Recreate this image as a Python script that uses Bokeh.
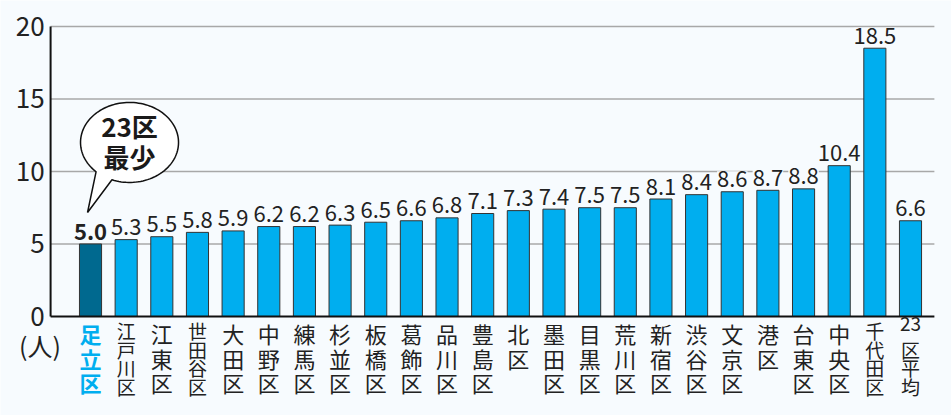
import numpy as np
from bokeh.plotting import figure
from bokeh.models import Range1d, ColumnDataSource
from bokeh.core.properties import value
from bokeh.embed import file_html
from bokeh.resources import INLINE

wards = ["足立区", "江戸川区", "江東区", "世田谷区", "大田区", "中野区", "練馬区", "杉並区",
         "板橋区", "葛飾区", "品川区", "豊島区", "北区", "墨田区", "目黒区", "荒川区",
         "新宿区", "渋谷区", "文京区", "港区", "台東区", "中央区", "千代田区", "23区平均"]
values = [5.0, 5.3, 5.5, 5.8, 5.9, 6.2, 6.2, 6.3, 6.5, 6.6, 6.8, 7.1, 7.3, 7.4, 7.5, 7.5,
          8.1, 8.4, 8.6, 8.7, 8.8, 10.4, 18.5, 6.6]
y_ticks = [0, 5, 10, 15, 20]
unit_label = "(人)"

BG = "#f7fbfe"
FONT = "Noto Sans CJK JP"
DARK = "#00698f"
CYAN = "#00aeef"
INK = "#222222"

n = len(wards)
xs = list(range(n))
colors = [DARK] + [CYAN] * (n - 1)
val_text = [f"{v:.1f}" for v in values]
val_styles = ["bold"] + ["normal"] * (n - 1)
src = ColumnDataSource(dict(x=xs, top=values, color=colors, vt=val_text, vsty=val_styles))


def split_lines(name):
    if name.startswith("23"):
        return ["23"] + list(name[2:])
    return list(name)


cx_, cl_, cc_, cs_, co_, cf_ = [], [], [], [], [], []
for i, w in enumerate(wards):
    rows = split_lines(w)
    small = len(rows) >= 4
    pitch = 18.5 if small else 24.5
    fsize = "19px" if small else "22px"
    for r, ch in enumerate(rows):
        cx_.append(i)
        cl_.append(ch)
        cc_.append(CYAN if i == 0 else INK)
        cs_.append("bold" if i == 0 else "normal")
        co_.append(r * pitch)
        cf_.append(fsize)
lab_src = ColumnDataSource(dict(x=cx_, t=cl_, c=cc_, s=cs_, o=co_, f=cf_))

# plot area spans the whole canvas; the axis is drawn in data space
X0, X1 = -1.12, 23.67          # axis position / right end of grid
p = figure(width=951, height=415, output_backend="svg", toolbar_location=None,
           x_range=Range1d(-2.525, 24.15), y_range=Range1d(-6.83, 21.79),
           x_axis_type=None, y_axis_type=None,
           min_border_left=0, min_border_right=0, min_border_top=0, min_border_bottom=0)
p.background_fill_color = BG
p.border_fill_color = BG
p.outline_line_color = None
p.grid.visible = False

grid_y = y_ticks[1:]
p.segment(x0=[X0] * len(grid_y), x1=[X1] * len(grid_y), y0=grid_y, y1=grid_y,
          line_color="#a8a8a8", line_width=1.5)

# y tick labels
p.text(x=[X0] * len(y_ticks), y=y_ticks, text=[str(t) for t in y_ticks], x_offset=-6,
       text_font=value(FONT), text_font_size="26px", text_color=INK,
       text_align="right", text_baseline="middle")
p.text(x=[X0 - 0.3], y=[-1.95], text=[unit_label], text_font=value(FONT),
       text_font_size="25px", text_color=INK, text_align="center", text_baseline="middle")

# value labels (boxed so grid lines pass behind them)
p.text(x="x", y="top", text="vt", source=src, text_font=value(FONT), text_font_size="22px",
       text_font_style="vsty", text_color=INK, text_align="center",
       text_baseline="alphabetic", y_offset=-12.5, background_fill_color=BG, padding=0)

# bars
p.vbar(x="x", top="top", width=0.62, bottom=0, source=src, fill_color="color",
       line_color="#333333", line_width=1)

# axis lines
p.segment(x0=[X0], x1=[X0], y0=[y_ticks[0]], y1=[y_ticks[-1]], line_color="#111111", line_width=2)
p.segment(x0=[X0], x1=[X1], y0=[0], y1=[0], line_color="#111111", line_width=2)

# category labels (stacked vertical, one character per row)
p.text(x="x", y=-0.05, text="t", source=lab_src, y_offset="o", text_font=value(FONT),
       text_font_size="f", text_font_style="s", text_color="c", text_align="center",
       text_baseline="top")

# callout bubble
sx, sy = 35.65, 14.5  # px per data unit
cx, cy, rx, ry = 1.094, 12.0, 49 / sx, 40 / sy
tip = (-0.084, 7.17)
a0, a1 = np.deg2rad(249), np.deg2rad(227 + 360)
ang = np.linspace(a0, a1, 120)
bx = list(cx + rx * np.cos(ang)) + [tip[0]]
by = list(cy + ry * np.sin(ang)) + [tip[1]]
p.patch(bx, by, fill_color="white", line_color="#111111", line_width=1.5)
p.text(x=[cx, cx], y=[cy + 1.2, cy - 1.0], text=["23区", "最少"], text_font=value(FONT),
       text_font_size="26px", text_font_style="bold", text_color="#1a1a1a",
       text_align="center", text_baseline="middle")

open("out.html", "w").write(file_html(p, INLINE))
